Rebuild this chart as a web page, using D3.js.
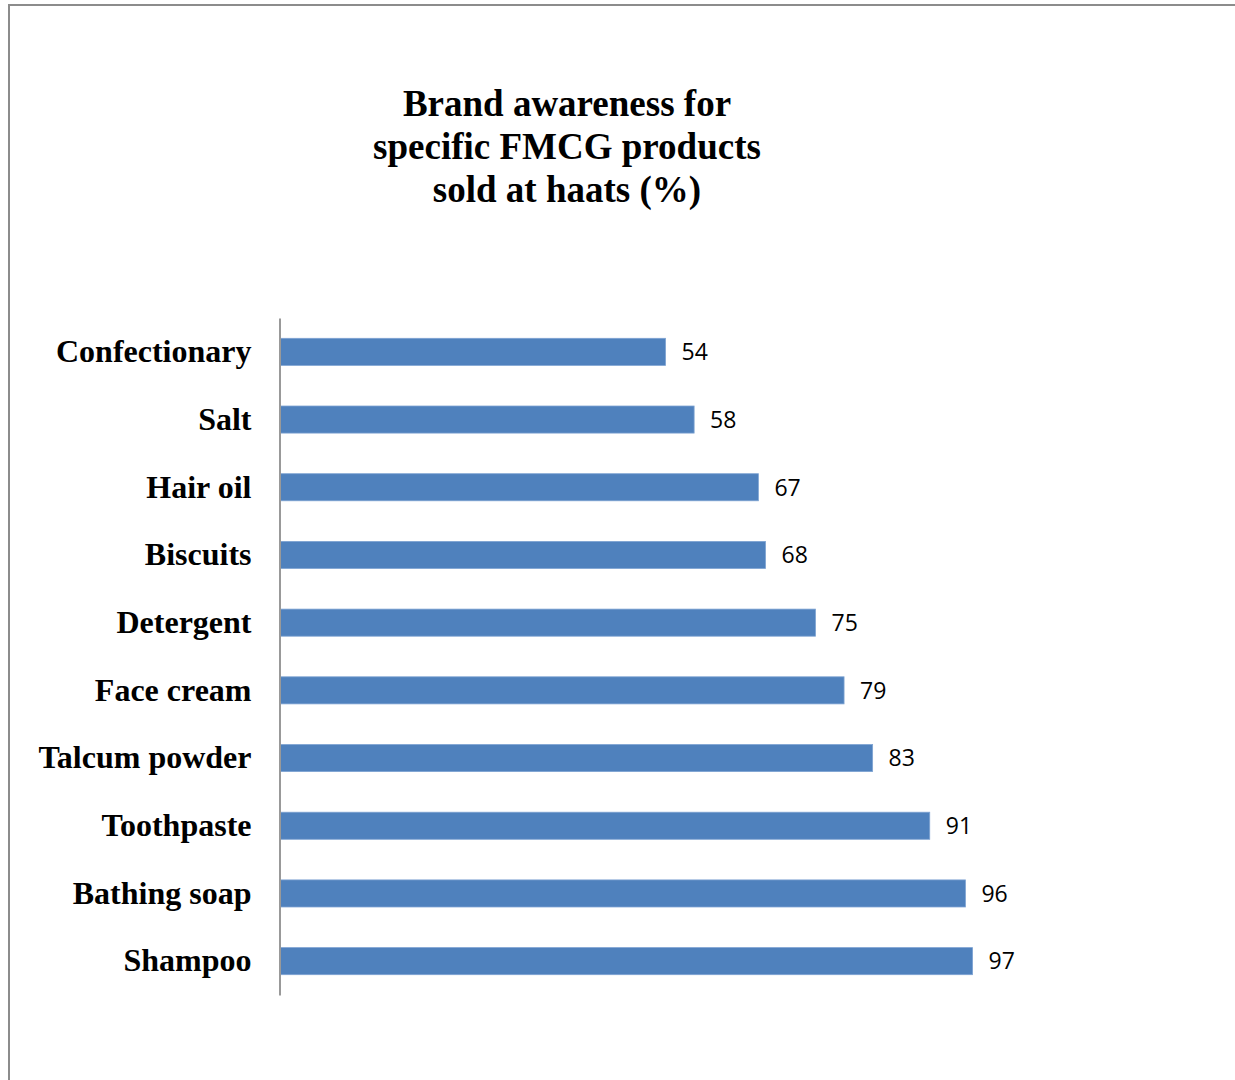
<!DOCTYPE html>
<html>
<head>
<meta charset="utf-8">
<script src="https://cdn.jsdelivr.net/npm/d3@7"></script>
<style>
  html, body { margin: 0; padding: 0; background: #fff; }
  svg { display: block; }
</style>
</head>
<body>
<script>
// Product categories, top to bottom, and brand awareness share (%)
const categories = ["Confectionary", "Salt", "Hair oil", "Biscuits", "Detergent",
                    "Face cream", "Talcum powder", "Toothpaste", "Bathing soap", "Shampoo"];
const awareness = [54, 58, 67, 68, 75, 79, 83, 91, 96, 97];
const titleLines = ["Brand awareness for", "specific FMCG products", "sold at haats (%)"];

const W = 1235, H = 1080;
const svg = d3.select("body").append("svg").attr("width", W).attr("height", H);

// outer frame of the chart area
svg.append("rect")
  .attr("x", 9).attr("y", 5).attr("width", W + 20).attr("height", H + 20)
  .attr("fill", "#fff").attr("stroke", "#8c8c8c").attr("stroke-width", 2);

// title
svg.append("g").selectAll("text").data(titleLines).join("text")
  .attr("x", 567).attr("y", (d, i) => 116 + i * 43)
  .attr("text-anchor", "middle")
  .attr("font-family", "'Liberation Serif', 'Times New Roman', serif")
  .attr("font-weight", "bold").attr("font-size", 37).attr("fill", "#000")
  .text(d => d);

const x = d3.scaleLinear().domain([0, 100]).range([280, 994]);
const y = d3.scaleBand().domain(categories).range([318, 995])
  .paddingInner(0.6).paddingOuter(0.3);

const data = categories.map((c, i) => ({ cat: c, value: awareness[i] }));

// bars
svg.append("g").selectAll("rect").data(data).join("rect")
  .attr("x", x(0)).attr("y", d => y(d.cat))
  .attr("width", d => x(d.value) - x(0)).attr("height", y.bandwidth())
  .attr("fill", "#4f81bd").attr("stroke", "#7ea3d2").attr("stroke-width", 0.8);

// category axis
const yAxis = svg.append("g").attr("transform", `translate(${x(0) - 0.5},0)`)
  .call(d3.axisLeft(y).tickSize(0).tickPadding(28));
yAxis.select(".domain").attr("stroke", "#999").attr("stroke-width", 2);
yAxis.selectAll("text")
  .attr("font-family", "'Liberation Serif', 'Times New Roman', serif")
  .attr("font-weight", "bold").attr("font-size", 32).attr("fill", "#000")
  .attr("dy", "0.32em");

// value labels
svg.append("g").selectAll("text").data(data).join("text")
  .attr("x", d => x(d.value) + 16).attr("y", d => y(d.cat) + y.bandwidth() / 2)
  .attr("dy", "0.36em")
  .attr("font-family", "'Open Sans', 'Noto Sans', sans-serif")
  .attr("font-size", 23).attr("fill", "#000")
  .text(d => d.value);
</script>
</body>
</html>
